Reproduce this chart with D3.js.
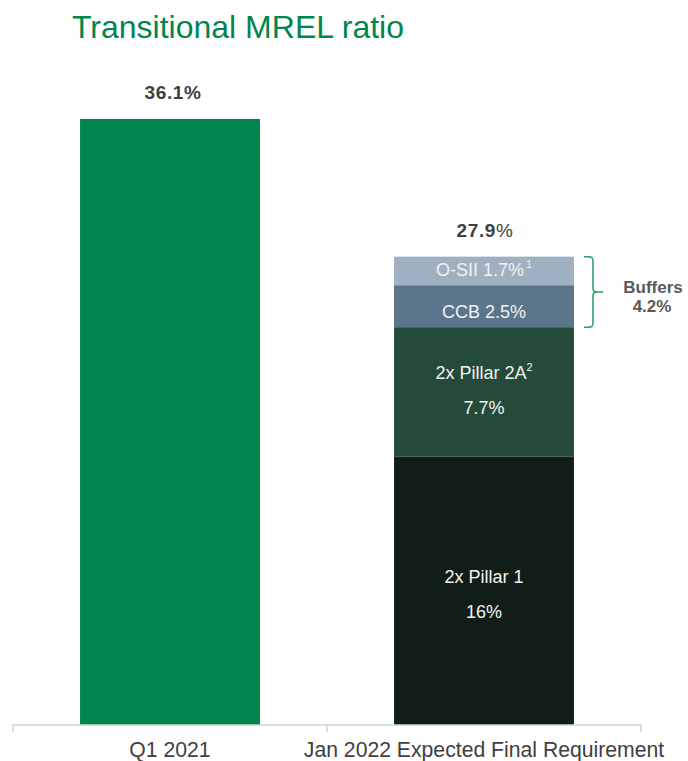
<!DOCTYPE html>
<html>
<head>
<meta charset="utf-8">
<script src="https://cdn.jsdelivr.net/npm/d3@7"></script>
<style>
  html, body { margin: 0; padding: 0; background: #ffffff; }
  svg { display: block; font-family: "Liberation Sans", Arial, sans-serif; }
</style>
</head>
<body>
<svg id="chart" width="688" height="761"></svg>
<script>
// Chart data
const categories = ["Q1 2021", "Jan 2022 Expected Final Requirement"];
const currentRatio = 36.1;                        // Q1 2021 transitional MREL ratio (%)
const componentNames = ["2x Pillar 1", "2x Pillar 2A", "CCB", "O-SII"];
const componentValues = [16, 7.7, 2.5, 1.7];       // requirement stack, bottom to top (%)
const componentNotes = ["", "2", "", "1"];         // footnote markers
const bufferComponents = ["CCB", "O-SII"];
const bufferLabel = "Buffers";

// Styling
const componentColors = ["#111e18", "#244b3a", "#5b758b", "#9fb1c0"];
const barColor = "#00854f";
const textDark = "#404040";
const axisColor = "#c4dacd";
const braceColor = "#2a9a62";

const svg = d3.select("#chart");

// Title
svg.append("text")
  .attr("x", 72).attr("y", 38)
  .attr("font-size", 32)
  .attr("fill", barColor)
  .text("Transitional MREL ratio");

// Scales
const x = d3.scaleBand()
  .domain(categories)
  .range([13, 641])
  .paddingInner(0.427)
  .paddingOuter(0.2135);

const y = d3.scaleLinear()
  .domain([0, currentRatio])
  .range([725, 119]);

// Stack for the requirement bar
let acc = 0;
const segments = componentNames.map((name, i) => {
  const s = { name, value: componentValues[i], note: componentNotes[i],
              color: componentColors[i], y0: acc, y1: acc + componentValues[i] };
  acc += componentValues[i];
  return s;
});
const requirementTotal = +d3.sum(componentValues).toFixed(1);

// Q1 2021 bar
svg.append("rect")
  .attr("x", x(categories[0]))
  .attr("width", x.bandwidth())
  .attr("y", y(currentRatio))
  .attr("height", y(0) - y(currentRatio))
  .attr("fill", barColor);

// Requirement stacked bar
svg.append("g").selectAll("rect")
  .data(segments)
  .join("rect")
  .attr("x", x(categories[1]))
  .attr("width", x.bandwidth())
  .attr("y", d => y(d.y1))
  .attr("height", d => y(d.y0) - y(d.y1))
  .attr("fill", d => d.color);

// Segment labels
const labelLayout = {
  "2x Pillar 1":  { split: true,  dy: -8 },
  "2x Pillar 2A": { split: true,  dy: -13 },
  "CCB":          { split: false, dy: 12 },
  "O-SII":        { split: false, dy: 5 }
};
const cx2 = x(categories[1]) + x.bandwidth() / 2;
const segLabels = svg.append("g")
  .attr("fill", "#f2f2f2")
  .attr("font-size", 18)
  .attr("text-anchor", "middle");

segments.forEach(d => {
  const lay = labelLayout[d.name];
  const mid = (y(d.y0) + y(d.y1)) / 2;
  const pct = `${d.value}%`;
  if (lay.split) {
    const t1 = segLabels.append("text").attr("x", cx2).attr("y", mid + lay.dy);
    t1.append("tspan").text(d.name);
    if (d.note) t1.append("tspan").attr("font-size", 11).attr("dy", -8).text(d.note);
    segLabels.append("text").attr("x", cx2).attr("y", mid + lay.dy + 35).text(pct);
  } else {
    const t = segLabels.append("text").attr("x", cx2).attr("y", mid + lay.dy);
    t.append("tspan").text(`${d.name} ${pct}`);
    if (d.note) t.append("tspan").attr("font-size", 11).attr("dx", 2).attr("dy", -8).text(d.note);
  }
});

// Value labels above bars
svg.append("text")
  .attr("x", x(categories[0]) + x.bandwidth() / 2 + 3)
  .attr("y", y(currentRatio) - 20)
  .attr("text-anchor", "middle")
  .attr("font-size", 19)
  .attr("font-weight", "bold")
  .attr("letter-spacing", 0.6)
  .attr("fill", textDark)
  .text(`${currentRatio}%`);

const totLabel = svg.append("text")
  .attr("x", cx2 + 1)
  .attr("y", y(requirementTotal) - 20)
  .attr("text-anchor", "middle")
  .attr("font-size", 19)
  .attr("letter-spacing", 0.6)
  .attr("fill", textDark);
totLabel.append("tspan").attr("font-weight", "bold").text(requirementTotal);
totLabel.append("tspan").text("%");

// Brace around the buffer components
const bufSegs = segments.filter(d => bufferComponents.includes(d.name));
const bufTop = y(d3.max(bufSegs, d => d.y1));
const bufBot = y(d3.min(bufSegs, d => d.y0));
const bufMid = (bufTop + bufBot) / 2;
const bx0 = x(categories[1]) + x.bandwidth() + 10;
const bx1 = bx0 + 9;
const bx2 = bx1 + 10;
const r = 4;
const brace = d3.path();
brace.moveTo(bx0, bufTop);
brace.lineTo(bx1 - r, bufTop);
brace.quadraticCurveTo(bx1, bufTop, bx1, bufTop + r);
brace.lineTo(bx1, bufMid - r);
brace.quadraticCurveTo(bx1, bufMid, bx1 + r, bufMid);
brace.lineTo(bx2, bufMid);
brace.moveTo(bx1 + r, bufMid);
brace.quadraticCurveTo(bx1, bufMid, bx1, bufMid + r);
brace.lineTo(bx1, bufBot - r);
brace.quadraticCurveTo(bx1, bufBot, bx1 - r, bufBot);
brace.lineTo(bx0, bufBot);
svg.append("path")
  .attr("d", brace.toString())
  .attr("fill", "none")
  .attr("stroke", braceColor)
  .attr("stroke-width", 1.5);

const bufferTotal = +d3.sum(bufSegs, d => d.value).toFixed(1);
const bufText = svg.append("text")
  .attr("text-anchor", "middle")
  .attr("font-size", 17)
  .attr("font-weight", "bold")
  .attr("fill", "#595959");
bufText.append("tspan").attr("x", 653).attr("y", bufMid + 1).text(bufferLabel);
bufText.append("tspan").attr("x", 652).attr("y", bufMid + 20).text(`${bufferTotal}%`);

// Category axis: baseline with ticks at band boundaries
const axisY = y(0);
const boundaries = [x.range()[0], x(categories[1]) - x.step() * x.paddingInner() / 2, x.range()[1]];
const axisG = svg.append("g");
axisG.append("line")
  .attr("x1", x.range()[0]).attr("x2", x.range()[1])
  .attr("y1", axisY).attr("y2", axisY)
  .attr("stroke", axisColor).attr("stroke-width", 1.5);
axisG.selectAll("line.tick")
  .data(boundaries)
  .join("line")
  .attr("class", "tick")
  .attr("x1", d => d).attr("x2", d => d)
  .attr("y1", axisY).attr("y2", axisY + 7)
  .attr("stroke", axisColor).attr("stroke-width", 1.5);

const labelAxis = svg.append("g")
  .attr("transform", `translate(0,${axisY})`)
  .call(d3.axisBottom(x).tickSize(0).tickPadding(18));
labelAxis.select(".domain").remove();
labelAxis.selectAll("text")
  .attr("font-family", "Liberation Sans, Arial, sans-serif")
  .attr("font-size", 21.2)
  .attr("fill", textDark)
  .attr("dy", 0)
  .attr("y", 32);
</script>
</body>
</html>
